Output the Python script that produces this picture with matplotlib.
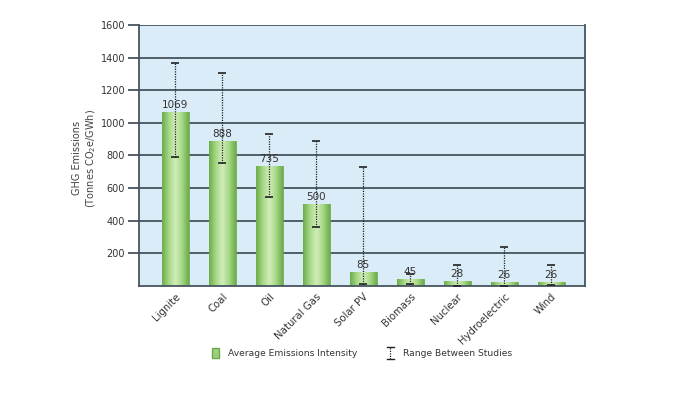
import matplotlib
matplotlib.use("Agg")
import matplotlib.pyplot as plt
import numpy as np
from matplotlib.lines import Line2D
from matplotlib.patches import Rectangle
from matplotlib.legend_handler import HandlerBase

categories = ["Lignite", "Coal", "Oil", "Natural Gas", "Solar PV", "Biomass",
              "Nuclear", "Hydroelectric", "Wind"]
average = [1069, 888, 735, 500, 85, 45, 28, 26, 26]
range_low = [790, 756, 544, 362, 13, 10, 2, 2, 6]
range_high = [1370, 1305, 932, 891, 731, 75, 128, 237, 126]
yticks = [200, 400, 600, 800, 1000, 1200, 1400, 1600]

fig = plt.figure(figsize=(6.87, 3.94), dpi=100)
ax = fig.add_axes([139/687, 1-286/394, (585-139)/687, (286-25)/394])
ax.set_facecolor("#d9ecf8")

x = np.arange(len(categories))
width = 0.57
ax.set_xlim(-0.77, 8.72)
ax.set_ylim(0, 1600)

for yt in yticks:
    ax.axhline(yt, color="#46545f", lw=1.3, zorder=1)

cmap = matplotlib.colors.LinearSegmentedColormap.from_list(
    "g", ["#6cad4a", "#a6d786", "#d0edba", "#a6d786", "#6cad4a"])
grad = np.linspace(0, 1, 64).reshape(1, -1)
bars = ax.bar(x, average, width=width, color="none", edgecolor="#6aa84a", lw=0.6, zorder=2)
for b in bars:
    x0, y0, w, h = b.get_x(), b.get_y(), b.get_width(), b.get_height()
    im = ax.imshow(grad, extent=[x0, x0 + w, y0, y0 + h], aspect="auto",
                   cmap=cmap, zorder=2)
    im.set_clip_path(b)

yerr = [np.array(average) - np.array(range_low), np.array(range_high) - np.array(average)]
eb = ax.errorbar(x, average, yerr=yerr, fmt="none", ecolor="#222222", elinewidth=0.9,
                 capsize=3, capthick=1.2, zorder=4)
for lc in eb[2]:
    lc.set_linestyle((0, (1, 1)))

for xi, v in zip(x, average):
    ax.text(xi, v + 12, str(v), ha="center", va="bottom", fontsize=7.5,
            color="#333333", zorder=5)

ax.set_yticks(yticks)
ax.set_yticklabels([str(t) for t in yticks], fontsize=7, color="#333333")
ax.tick_params(axis="y", length=8, width=1.3, color="#46545f", pad=2)
ax.set_xticks(x)
ax.set_xticklabels(categories, rotation=45, ha="right", rotation_mode="anchor",
                   fontsize=7.3, color="#333333")
ax.tick_params(axis="x", length=0, pad=4)

for s in ["left", "bottom", "right"]:
    ax.spines[s].set_color("#46545f")
    ax.spines[s].set_linewidth(1.3)
ax.spines["top"].set_visible(False)

fig.text(85/687, 1-158/394, "GHG Emissions\n(Tonnes CO$_2$e/GWh)", rotation=90,
         ha="center", va="center", fontsize=7, color="#444444", linespacing=1.2)


class RangeHandler(HandlerBase):
    def create_artists(self, legend, orig_handle, xdescent, ydescent, width, height,
                       fontsize, trans):
        cx = width / 2 - xdescent
        y0 = -ydescent - 1
        y1 = height - ydescent + 1
        vline = Line2D([cx, cx], [y0, y1], color="#222222", lw=0.9,
                       linestyle=(0, (1, 1)), transform=trans)
        c1 = Line2D([cx - 2.5, cx + 2.5], [y0, y0], color="#222222", lw=1.0, transform=trans)
        c2 = Line2D([cx - 2.5, cx + 2.5], [y1, y1], color="#222222", lw=1.0, transform=trans)
        return [vline, c1, c2]


range_handle = Line2D([0], [0], color="#222222")
handles = [Rectangle((0, 0), 1, 1, facecolor="#9ccf7c", edgecolor="#6aa84a"),
           range_handle]
leg = fig.legend(handles, ["Average Emissions Intensity", "Range Between Studies"],
                 loc="center", bbox_to_anchor=(362/687, 1-353/394), ncol=2, frameon=False,
                 fontsize=6.6, handlelength=0.8, handleheight=1.2, columnspacing=3.2,
                 handletextpad=1.0, handler_map={range_handle: RangeHandler()})
for t in leg.get_texts():
    t.set_color("#333333")

fig.savefig("out.png", dpi=100, facecolor="white")
